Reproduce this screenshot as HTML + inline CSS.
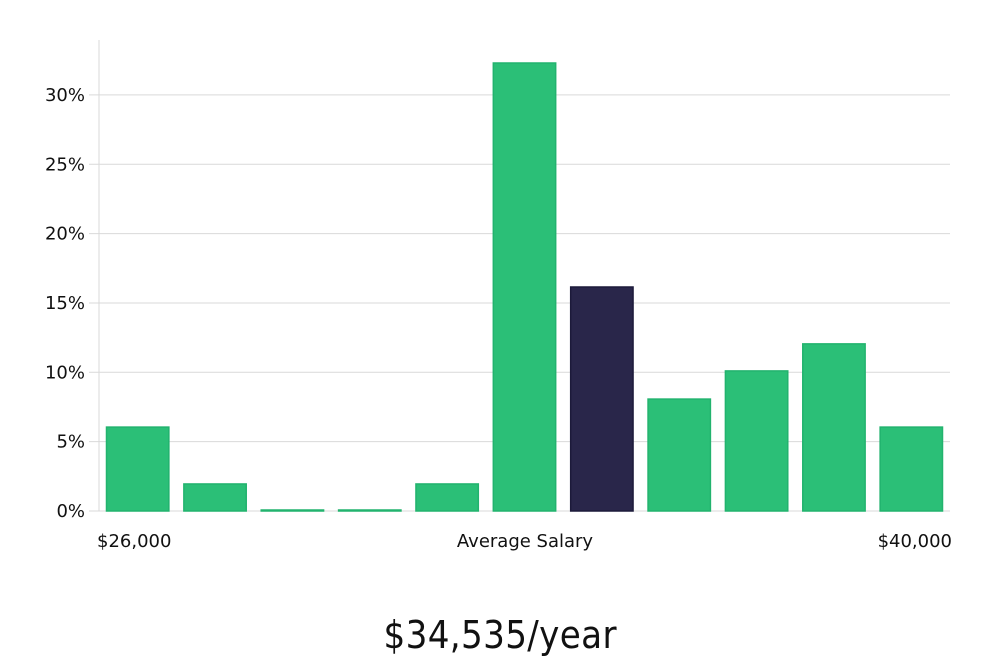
<!DOCTYPE html>
<html><head><meta charset="utf-8"><style>
body{margin:0;background:#fff;width:1000px;height:660px;overflow:hidden;font-family:"DejaVu Sans","Liberation Sans",sans-serif}
svg{display:block}
</style></head><body>
<svg id="chart" width="1000" height="660" xmlns="http://www.w3.org/2000/svg"></svg>
<script>
const categories=["b1","b2","b3","b4","b5","b6","b7","b8","b9","b10","b11"];
const values=[6.05,1.95,0.05,0.05,1.95,32.3,16.15,8.07,10.1,12.05,6.05];
const highlight=[false,false,false,false,false,false,true,false,false,false,false];
const yTicks=[0,5,10,15,20,25,30];
const yTickLabels=["0%","5%","10%","15%","20%","25%","30%"];
const xLabels=["$26,000","Average Salary","$40,000"];
const titleText="$34,535/year";
const NS="http://www.w3.org/2000/svg";
const svg=document.getElementById('chart');
const X0=99,X1=950,Y0=511,PX=13.87;
const y=v=>Y0-v*PX;
const band=(X1-X0)/categories.length;
const x=i=>X0+i*band+7.5;
function mk(t,a){const e=document.createElementNS(NS,t);for(const k in a)e.setAttribute(k,a[k]);svg.appendChild(e);return e;}
yTicks.forEach((t,i)=>{
  const g=mk('line',{x1:89,x2:X1,y1:y(t),y2:y(t),stroke:'#d9d9d9','stroke-width':1});
  
  
  const l=mk('text',{x:85,y:y(t)+6,'text-anchor':'end','font-size':18,fill:'#111'});
  l.textContent=yTickLabels[i];
  
  
});
const ax=mk('line',{x1:X0,x2:X0,y1:40,y2:Y0,stroke:'#d9d9d9','stroke-width':1});


values.forEach((v,i)=>{
  const h=Math.max(v*PX,1);
  const r=mk('rect',{x:x(i),y:Y0-h,width:band-15,height:h,fill:highlight[i]?'#29264a':'#2bbf77',stroke:highlight[i]?'#1c1a3a':'#22b36e','stroke-width':1.5});
  
  
});
const xl=[[97,'start'],[525,'middle'],[952,'end']];
xLabels.forEach((s,i)=>{
  const t=mk('text',{x:xl[i][0],y:547,'text-anchor':xl[i][1],'font-size':18,fill:'#111'});
  t.textContent=s;
  
  
});
const tt=mk('text',{x:500,y:648,'text-anchor':'middle','font-size':38,fill:'#111','font-family':'"Liberation Sans Narrow","DejaVu Sans Condensed","Liberation Sans",sans-serif','font-weight':300,textLength:233});
tt.textContent=titleText;


</script>
</body></html>
